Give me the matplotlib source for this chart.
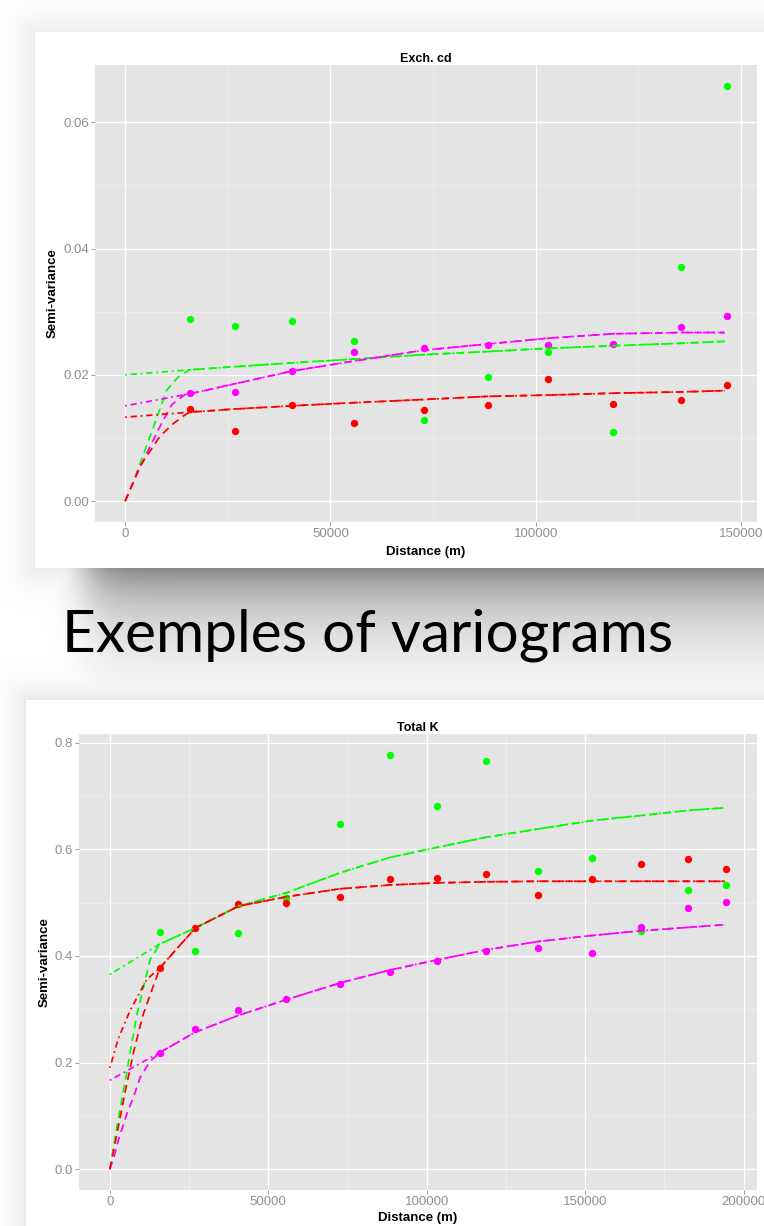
""" Two experimental variograms with fitted models, laid out like a slide.
"""

import numpy as np
import matplotlib
matplotlib.use('Agg')
import matplotlib.pyplot as plt
from matplotlib.ticker import MultipleLocator

W, H = 764, 1226

# ======================================================================================================================
# Exch. cd : experimental semi-variances
cd_lags = [15753, 26826, 40639, 55822, 72717, 88470, 103082, 118721, 135274, 146575]
cd_green = [0.02886, 0.02776, 0.02859, 0.02543, 0.01285, 0.01961, 0.02360, 0.01097, 0.03712, 0.06576]
cd_magenta = [0.01706, 0.01734, 0.02066, 0.02360, 0.02427, 0.02476, 0.02471, 0.02482, 0.02753, 0.02925]
cd_red = [0.01463, 0.01119, 0.01518, 0.01241, 0.01446, 0.01529, 0.01939, 0.01540, 0.01607, 0.01845]

# fitted models (dot-dash)
cd_fit_x = [0, 15753, 26826, 40639, 55822, 72717, 88470, 103082, 118721, 135274, 146000]
cd_fit_green = [0.0200, 0.0208, 0.0213, 0.0219, 0.0225, 0.0232, 0.0237, 0.0242, 0.0246, 0.0250, 0.0253]
cd_fit_magenta = [0.0151, 0.0170, 0.0186, 0.0206, 0.0222, 0.0239, 0.0249, 0.0258, 0.0265, 0.0267, 0.0267]
cd_fit_red = [0.0133, 0.0141, 0.0146, 0.0151, 0.0156, 0.0161, 0.0166, 0.0168, 0.0171, 0.0173, 0.0175]

# dashed models: part from the origin up to where they meet the fitted curves
cd_near_green_x = [0, 2000, 6100, 10160, 13000]
cd_near_green = [0.0, 0.0030, 0.0103, 0.0176, 0.0197]
cd_near_magenta_x = [0, 3250, 6100, 8950, 11380, 14630]
cd_near_magenta = [0.0, 0.0048, 0.0087, 0.0124, 0.0153, 0.0169]
cd_near_red_x = [0, 3660, 8540, 11380, 14230]
cd_near_red = [0.0, 0.0056, 0.0103, 0.0121, 0.0135]

# ======================================================================================================================
# Total K : experimental semi-variances
k_lags = [15868, 26946, 40569, 55689, 72754, 88323, 103144, 118563, 135180, 152246, 167515, 182335, 194461]
k_green = [0.4454, 0.4101, 0.4435, 0.5090, 0.6469, 0.7773, 0.6810, 0.7660, 0.5594, 0.5833, 0.4460, 0.5235, 0.5323]
k_red = [0.3780, 0.4523, 0.4970, 0.4995, 0.5109, 0.5436, 0.5461, 0.5543, 0.5140, 0.5449, 0.5732, 0.5814, 0.5625]
k_magenta = [0.2173, 0.2627, 0.2980, 0.3187, 0.3471, 0.3698, 0.3912, 0.4101, 0.4145, 0.4050, 0.4542, 0.4901, 0.5014]

k_fit_x = [0, 15868, 26946, 40569, 55689, 72754, 88323, 103144, 118563, 135180, 152246, 167515, 182335, 194000]
k_fit_green = [0.3654, 0.4227, 0.4523, 0.4932, 0.5184, 0.5562, 0.5846, 0.6035, 0.6224, 0.6381, 0.6539, 0.6633,
               0.6728, 0.6778]
k_fit_magenta = [0.1669, 0.2192, 0.2570, 0.2885, 0.3180, 0.3496, 0.3735, 0.3924, 0.4113, 0.4271, 0.4384, 0.4472,
                 0.4535, 0.4586]
k_fit_red_x = [0, 2700, 6400, 11670, 15868, 26946, 40569, 55689, 72754, 88323, 103144, 118563, 135180, 152246,
               167515, 182335, 194000]
k_fit_red = [0.190, 0.2455, 0.2977, 0.356, 0.378, 0.4523, 0.4932, 0.511, 0.526, 0.533, 0.537, 0.539, 0.540, 0.540,
             0.540, 0.540, 0.540]

k_near_green_x = [0, 2400, 4300, 6200, 8500, 12700]
k_near_green = [0.0, 0.0857, 0.147, 0.2116, 0.2885, 0.393]
k_near_red_x = [0, 2700, 5000, 7500, 10500, 13500]
k_near_red = [0.0, 0.080, 0.150, 0.220, 0.290, 0.340]
k_near_magenta_x = [0, 1360, 2720, 5360, 7460, 9560, 12700]
k_near_magenta = [0.0, 0.024, 0.055, 0.104, 0.135, 0.172, 0.2025]

GREEN, RED, MAGENTA = '#00ff00', '#ff0000', '#ff00ff'
FONT = 'Liberation Sans'
DASHED = (0, (4.5, 3))
DOTDASH = (0, (1, 2.2, 3.6, 2.2))


# ======================================================================================================================
def _background():
    """ Grey slide background: two white cards with soft drop shadows.
    """

    yy, xx = np.mgrid[0:H, 0:W].astype(float)

    def halo(x0, y0, x1, y1, depth, spread):
        dx = np.maximum(np.maximum(x0 - xx, xx - x1), 0)
        dy = np.maximum(np.maximum(y0 - yy, yy - y1), 0)
        return depth * np.exp(-np.hypot(dx, dy) / spread)

    dark = halo(35, 32, 900, 568, 0.08, 16)
    dark = np.maximum(dark, halo(26, 700, 900, 1400, 0.09, 15))
    below = np.where(yy >= 568, 0.46 * np.exp(-(yy - 568) / 52.), 0.)
    below *= 0.5 * (1 + np.tanh((xx - 85) / 24.))
    dark = np.maximum(dark, below)

    bg = 1. - dark
    bg[32:568, 35:] = 1.
    bg[700:, 26:] = 1.
    return bg


# ======================================================================================================================
def px_axes(fig, left, top, right, bottom):
    return fig.add_axes([left / W, 1 - bottom / H, (right - left) / W, (bottom - top) / H])


# ======================================================================================================================
def variogram_panel(ax, title, lags, points, fits, nears, xstep, ystep, yfmt, xlab_y, ylab_x):

    # ggplot style 5% expansion of the data range
    xs = [0] + list(lags)
    ys = [0] + [v for p in points for v in p]
    dx, dy = 0.05 * (max(xs) - min(xs)), 0.05 * (max(ys) - min(ys))
    ax.set_xlim(min(xs) - dx, max(xs) + dx)
    ax.set_ylim(min(ys) - dy, max(ys) + dy)

    for col, pts, (fx, fy), (nx, ny) in zip([GREEN, MAGENTA, RED], points, fits, nears):
        ax.plot(lags, pts, 'o', color=col, ms=5.3, mec='none', zorder=3)
        ax.plot(fx, fy, color=col, lw=1.25, ls=DOTDASH, zorder=4)
        tail = [(x, y) for x, y in zip(fx, fy) if x > nx[-1]]
        ax.plot(list(nx) + [t[0] for t in tail], list(ny) + [t[1] for t in tail],
                color=col, lw=1.25, ls=DASHED, zorder=4)

    ax.set_facecolor('#e4e4e4')
    for s in ax.spines.values():
        s.set_visible(False)
    ax.xaxis.set_major_locator(MultipleLocator(xstep))
    ax.xaxis.set_minor_locator(MultipleLocator(xstep / 2))
    ax.yaxis.set_major_locator(MultipleLocator(ystep))
    ax.yaxis.set_minor_locator(MultipleLocator(ystep / 2))
    ax.xaxis.set_major_formatter(lambda v, p: f'{v:.0f}')
    ax.yaxis.set_major_formatter(lambda v, p: yfmt.format(v))
    ax.grid(True, which='major', color='white', lw=0.9)
    ax.grid(True, which='minor', color='#f0f0f0', lw=0.55)
    ax.set_axisbelow(True)
    ax.tick_params(which='major', length=2.8, width=0.6, color='#8c8c8c', pad=1.5,
                   labelsize=9.5, labelcolor='#8f8f8f')
    ax.tick_params(which='minor', length=0)
    for lab in ax.get_xticklabels() + ax.get_yticklabels():
        lab.set_family(FONT)

    ax.set_title(title, fontsize=9, fontweight='bold', family=FONT, pad=1.5)
    ax.set_xlabel('Distance (m)', fontsize=9.5, fontweight='bold', family=FONT)
    ax.set_ylabel('Semi-variance', fontsize=9.5, fontweight='bold', family=FONT)
    ax.xaxis.set_label_coords(0.5, xlab_y)
    ax.yaxis.set_label_coords(ylab_x, 0.5)
    ax.xaxis.label.set_va('center')
    ax.yaxis.label.set_va('center')


# ======================================================================================================================
fig = plt.figure(figsize=(W / 100, H / 100), dpi=100)

bg_ax = fig.add_axes([0, 0, 1, 1], zorder=-10)
bg_ax.imshow(_background(), cmap='gray', vmin=0, vmax=1, extent=(0, W, H, 0), interpolation='bilinear', aspect='auto')
bg_ax.axis('off')

ax1 = px_axes(fig, 95, 65, 757, 522)
variogram_panel(ax1, 'Exch. cd', cd_lags,
                [cd_green, cd_magenta, cd_red],
                [(cd_fit_x, cd_fit_green), (cd_fit_x, cd_fit_magenta), (cd_fit_x, cd_fit_red)],
                [(cd_near_green_x, cd_near_green), (cd_near_magenta_x, cd_near_magenta),
                 (cd_near_red_x, cd_near_red)],
                50000, 0.02, '{:.2f}', -0.065, -0.064)

# bottom card is cut by the slide edge; the panel is lifted a little so its axis title still fits
ax2 = px_axes(fig, 79, 734, 757, 1190)
variogram_panel(ax2, 'Total K', k_lags,
                [k_green, k_magenta, k_red],
                [(k_fit_x, k_fit_green), (k_fit_x, k_fit_magenta), (k_fit_red_x, k_fit_red)],
                [(k_near_green_x, k_near_green), (k_near_magenta_x, k_near_magenta),
                 (k_near_red_x, k_near_red)],
                50000, 0.2, '{:.1f}', (1190 - 1218.4) / 456, -0.051)

# slide caption, scaled to the width it takes in the slide
cap = fig.text(62 / W, 1 - 651 / H, 'Exemples of variograms', family='Lato', fontsize=40,
               ha='left', va='baseline', color='black')
r = fig.canvas.get_renderer()
cap.set_fontsize(40 * 612 / cap.get_window_extent(r).width)

fig.savefig('out.png', dpi=100)
